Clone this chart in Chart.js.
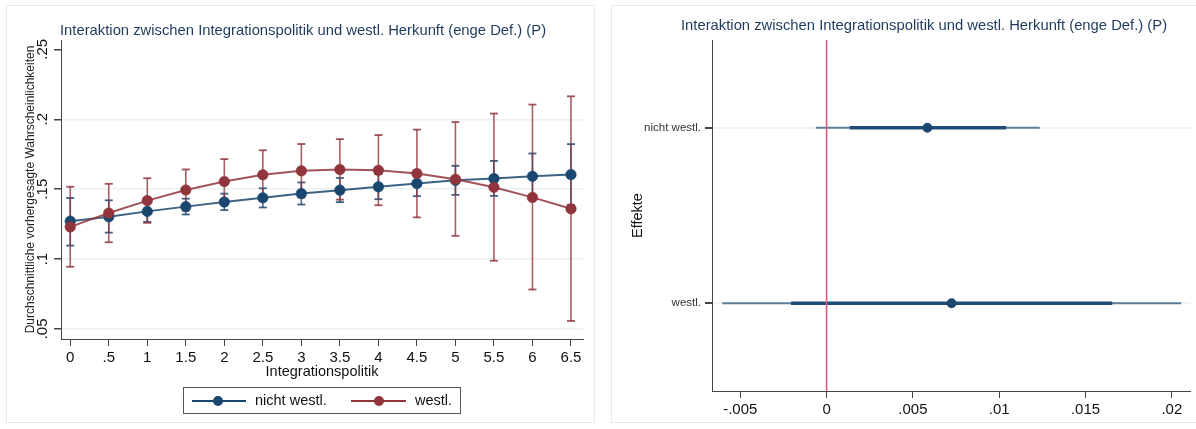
<!DOCTYPE html>
<html lang="de">
<head>
<meta charset="utf-8">
<title>Integrationspolitik und westl. Herkunft</title>
<script src="https://cdn.jsdelivr.net/npm/chart.js@4.4.1/dist/chart.umd.min.js"></script>
<style>
  html, body { margin: 0; padding: 0; background: #fff; }
  body { width: 1196px; height: 429px; position: relative; overflow: hidden;
         font-family: 'Liberation Sans', Arial, sans-serif; }
  .panel { position: absolute; top: 5px; height: 418px; border: 1px solid #e4ecee; box-sizing: border-box; }
  canvas { position: absolute; top: 0; }
  .title { position: absolute; font-size: 14.8px; color: #1e3a5c; white-space: nowrap; }
  #legend { position: absolute; left: 183px; top: 387px; width: 278px; height: 27px;
            border: 1px solid #555; box-sizing: border-box; font-size: 14.5px; color: #111; }
  .key { position: absolute; top: 12px; height: 2px; }
  .dot { position: absolute; top: 8px; width: 10px; height: 10px; border-radius: 50%; }
  .lbl { position: absolute; top: 4px; }
</style>
</head>
<body>
<div class="panel" style="left:6px;width:589px"></div>
<div class="panel" style="left:611px;width:600px"></div>

<canvas id="marginsChart" width="600" height="429" style="left:0"></canvas>
<canvas id="effectsChart" width="596" height="429" style="left:600px"></canvas>

<div class="title" style="left:60px;top:22px">Interaktion zwischen Integrationspolitik und westl. Herkunft (enge Def.) (P)</div>
<div class="title" style="left:681px;top:17px">Interaktion zwischen Integrationspolitik und westl. Herkunft (enge Def.) (P)</div>

<div id="legend">
  <div class="key" style="left:8px;width:54px;background:#1a476f"></div>
  <div class="dot" style="left:29px;background:#1a476f"></div>
  <div class="lbl" style="left:71px">nicht westl.</div>
  <div class="key" style="left:167px;width:55px;background:#90353b"></div>
  <div class="dot" style="left:190px;background:#90353b"></div>
  <div class="lbl" style="left:231px">westl.</div>
</div>

<script>
// predicted probabilities by integration policy level
const policyLevels = [0, 0.5, 1, 1.5, 2, 2.5, 3, 3.5, 4, 4.5, 5, 5.5, 6, 6.5];

const nichtWestlMean  = [0.1271, 0.1303, 0.1341, 0.1375, 0.1408, 0.1438, 0.1469, 0.1493, 0.1517, 0.1541, 0.1563, 0.1576, 0.1592, 0.1604];
const nichtWestlLower = [0.1096, 0.1189, 0.1266, 0.1319, 0.1350, 0.1369, 0.1390, 0.1407, 0.1428, 0.1450, 0.1459, 0.1452, 0.1430, 0.1387];
const nichtWestlUpper = [0.1437, 0.1420, 0.1415, 0.1432, 0.1468, 0.1506, 0.1548, 0.1580, 0.1607, 0.1632, 0.1667, 0.1702, 0.1755, 0.1822];

const westlMean  = [0.1230, 0.1329, 0.1418, 0.1494, 0.1555, 0.1603, 0.1631, 0.1641, 0.1635, 0.1612, 0.1571, 0.1514, 0.1441, 0.1360];
const westlLower = [0.0945, 0.1120, 0.1259, 0.1346, 0.1395, 0.1428, 0.1440, 0.1425, 0.1385, 0.1298, 0.1166, 0.0988, 0.0782, 0.0557];
const westlUpper = [0.1517, 0.1538, 0.1578, 0.1641, 0.1715, 0.1778, 0.1823, 0.1858, 0.1887, 0.1926, 0.1980, 0.2041, 0.2105, 0.2164];

const probTicks = [0.05, 0.1, 0.15, 0.2, 0.25];

// effects with two confidence levels
const effectRows   = ['nicht westl.', 'westl.'];
const effectEst    = [0.00584, 0.00724];
const effectInnerLo = [0.00134, -0.00206];
const effectInnerHi = [0.01040, 0.01655];
const effectOuterLo = [-0.00062, -0.00604];
const effectOuterHi = [0.01235, 0.02054];

const effectTicks = [-0.005, 0, 0.005, 0.01, 0.015, 0.02];

const FONT = "'Liberation Sans', Arial, sans-serif";
const NAVY = '#1a476f';
const MAROON = '#90353b';

// Stata style numbers: .05 instead of 0.05
function dotless(v) {
  if (Math.abs(v) < 1e-12) return '0';
  const s = String(+v.toFixed(4));
  return s.replace(/^0\./, '.').replace(/^-0\./, '-.');
}

// vertical CI segments, separated by gaps
function whiskers(xs, lo, hi) {
  const pts = [];
  xs.forEach((x, i) => pts.push({ x, y: lo[i] }, { x, y: hi[i] }, { x, y: null }));
  return pts;
}

function caps(xs, lo, hi) {
  const pts = [];
  xs.forEach((x, i) => pts.push({ x, y: lo[i] }, { x, y: hi[i] }));
  return pts;
}

// horizontal CI segments for the coefficient plot
function spans(lo, hi) {
  const pts = [];
  lo.forEach((v, i) => pts.push({ x: v, y: i + 1 }, { x: hi[i], y: i + 1 }, { x: hi[i], y: null }));
  return pts;
}

Chart.defaults.font.family = FONT;
Chart.defaults.color = '#111';

const noInteraction = {
  responsive: false,
  animation: false,
  events: [],
  plugins: { legend: { display: false }, tooltip: { enabled: false }, title: { display: false } }
};

function seriesLine(mean, color, lineColor) {
  return {
    data: policyLevels.map((x, i) => ({ x, y: mean[i] })),
    borderColor: lineColor,
    borderWidth: 2,
    pointRadius: 5.3,
    pointBackgroundColor: color,
    pointBorderColor: color,
    pointBorderWidth: 0.5
  };
}

function ciWhisker(lo, hi, color) {
  return {
    data: whiskers(policyLevels, lo, hi),
    borderColor: color,
    borderWidth: 1.6,
    pointRadius: 0,
    spanGaps: false
  };
}

function ciCaps(lo, hi, color) {
  return {
    data: caps(policyLevels, lo, hi),
    showLine: false,
    pointStyle: 'line',
    pointRadius: 4,
    pointBorderColor: color,
    pointBorderWidth: 1.8
  };
}

new Chart(document.getElementById('marginsChart'), {
  type: 'line',
  data: {
    datasets: [
      seriesLine(westlMean, MAROON, 'rgba(144,53,59,0.85)'),
      seriesLine(nichtWestlMean, NAVY, 'rgba(26,71,111,0.85)'),
      ciWhisker(westlLower, westlUpper, 'rgba(144,53,59,0.78)'),
      ciCaps(westlLower, westlUpper, 'rgba(144,53,59,0.85)'),
      ciWhisker(nichtWestlLower, nichtWestlUpper, 'rgba(26,71,111,0.78)'),
      ciCaps(nichtWestlLower, nichtWestlUpper, 'rgba(26,71,111,0.85)')
    ]
  },
  options: {
    ...noInteraction,
    layout: { padding: { left: 0, top: 40, right: 17, bottom: 45 } },
    scales: {
      x: {
        type: 'linear',
        min: -0.12,
        max: 6.656,
        afterBuildTicks: s => { s.ticks = policyLevels.map(v => ({ value: v })); },
        afterFit: s => { s.height = 45; },
        ticks: { callback: v => dotless(v), font: { size: 15 }, color: '#111', padding: 3, maxRotation: 0 },
        grid: { color: 'rgba(0,0,0,0)', tickColor: '#444', tickLength: 7 },
        border: { color: '#444', width: 1 },
        title: { display: true, text: 'Integrationspolitik', font: { size: 14.5 }, color: '#111',
                 padding: { top: 0, bottom: 3 } }
      },
      y: {
        min: 0.0428,
        max: 0.2567,
        afterBuildTicks: s => { s.ticks = probTicks.map(v => ({ value: v })); },
        afterFit: s => { s.width = 61; },
        ticks: { callback: v => dotless(v), font: { size: 15 }, color: '#111',
                 minRotation: 90, maxRotation: 90, crossAlign: 'center', padding: 1 },
        grid: {
          color: ctx => (ctx.tick && ctx.tick.value > 0.24) ? 'rgba(0,0,0,0)' : '#e9f1f3',
          lineWidth: 1.5,
          tickColor: '#444',
          tickLength: 7
        },
        border: { color: '#444', width: 1 },
        title: { display: true, text: 'Durchschnittliche vorhergesagte Wahrscheinlichkeiten',
                 font: { size: 12 }, color: '#222', padding: { top: 23, bottom: 0 } }
      }
    }
  }
});

// coefficient plot, rows on a reversed linear axis
const rowMin = 0.5, rowMax = 2.5;

new Chart(document.getElementById('effectsChart'), {
  type: 'line',
  data: {
    datasets: [
      {
        data: [{ x: 0, y: rowMin }, { x: 0, y: rowMax }],
        borderColor: '#dc5a7c',
        borderWidth: 1.6,
        pointRadius: 0
      },
      {
        data: effectEst.map((v, i) => ({ x: v, y: i + 1 })),
        showLine: false,
        pointRadius: 4.7,
        pointBackgroundColor: NAVY,
        pointBorderColor: NAVY,
        pointBorderWidth: 0.5
      },
      {
        data: spans(effectInnerLo, effectInnerHi),
        borderColor: '#1f4c76',
        borderWidth: 3.6,
        pointRadius: 0,
        spanGaps: false
      },
      {
        data: spans(effectOuterLo, effectOuterHi),
        borderColor: 'rgba(40,85,125,0.75)',
        borderWidth: 1.8,
        pointRadius: 0,
        spanGaps: false
      }
    ]
  },
  options: {
    ...noInteraction,
    layout: { padding: { left: 0, top: 40, right: 4, bottom: 0 } },
    scales: {
      x: {
        type: 'linear',
        min: -0.00664,
        max: 0.0211,
        afterBuildTicks: s => { s.ticks = effectTicks.map(v => ({ value: v })); },
        afterFit: s => { s.height = 38; },
        ticks: { callback: v => dotless(v), font: { size: 15 }, color: '#111', padding: 3, maxRotation: 0 },
        grid: { color: 'rgba(0,0,0,0)', tickColor: '#444', tickLength: 7 },
        border: { color: '#444', width: 1 }
      },
      y: {
        type: 'linear',
        reverse: true,
        min: rowMin,
        max: rowMax,
        afterBuildTicks: s => { s.ticks = effectRows.map((r, i) => ({ value: i + 1 })); },
        afterFit: s => { s.width = 112; },
        ticks: { callback: v => effectRows[Math.round(v) - 1], font: { size: 11.5 }, color: '#333', padding: 4 },
        grid: { color: '#edf3f5', lineWidth: 2, tickColor: '#444', tickLength: 7 },
        border: { color: '#444', width: 1 },
        title: { display: true, text: 'Effekte', font: { size: 14.5 }, color: '#111',
                 padding: { top: 29, bottom: 0 } }
      }
    }
  }
});
</script>
</body>
</html>
